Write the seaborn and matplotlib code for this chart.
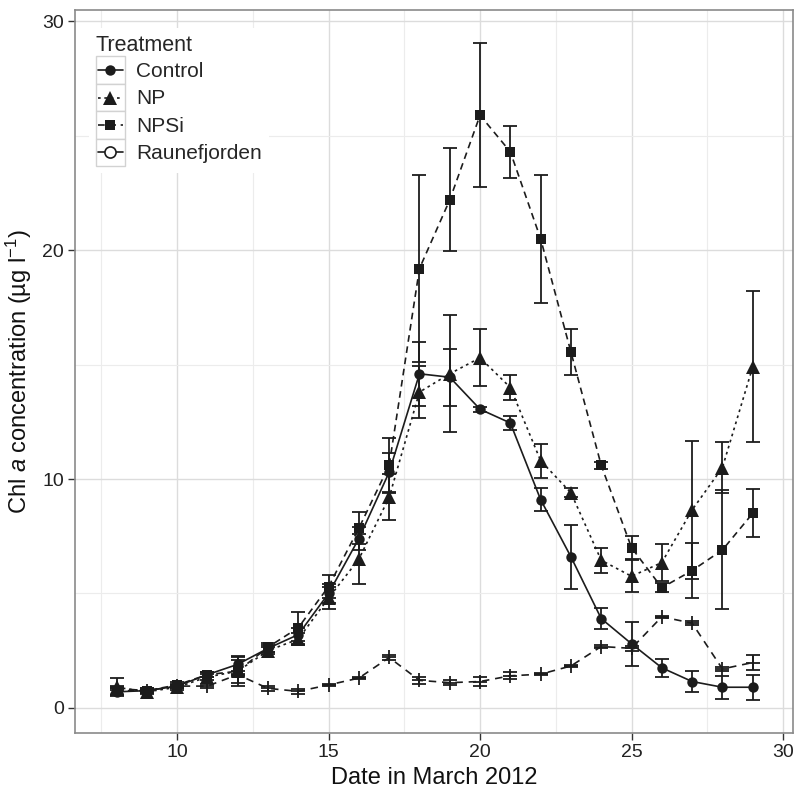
import numpy as np
import pandas as pd
import matplotlib
matplotlib.use("Agg")
import matplotlib.pyplot as plt
import seaborn as sns
from matplotlib.lines import Line2D
from matplotlib.patches import Rectangle
from matplotlib.legend_handler import HandlerBase
from matplotlib.ticker import MultipleLocator

days = list(range(8, 30))

control = [0.7, 0.75, 0.95, 1.45, 1.9, 2.6, 3.2, 5.0, 7.4, 10.3, 14.6, 14.45,
           13.05, 12.45, 9.1, 6.6, 3.9, 2.8, 1.75, 1.15, 0.9, 0.9]
control_sd = [0.15, 0.1, 0.1, 0.1, 0.3, 0.15, 0.3, 0.4, 0.5, 0.85, 1.4, 1.25,
              0.1, 0.3, 0.5, 1.4, 0.45, 0.95, 0.4, 0.45, 0.5, 0.55]

np_ = [0.9, 0.7, 0.9, 1.35, 1.6, 2.5, 3.0, 4.8, 6.5, 9.2, 13.8, 14.6,
       15.3, 14.0, 10.8, 9.4, 6.45, 5.75, 6.35, 8.65, 10.5, 14.9]
np_sd = [0.4, 0.1, 0.1, 0.15, 0.65, 0.15, 0.25, 0.5, 1.1, 1.0, 1.15, 2.55,
         1.25, 0.55, 0.75, 0.2, 0.55, 0.7, 0.8, 3.0, 1.1, 3.3]

npsi = [0.75, 0.75, 1.0, 1.45, 1.6, 2.65, 3.5, 5.3, 7.85, 10.6, 19.2, 22.2,
        25.9, 24.3, 20.5, 15.55, 10.6, 7.0, 5.25, 6.0, 6.9, 8.5]
npsi_sd = [0.2, 0.1, 0.15, 0.1, 0.5, 0.2, 0.7, 0.5, 0.7, 1.2, 4.1, 2.25,
           3.15, 1.15, 2.8, 1.0, 0.15, 0.5, 0.2, 1.2, 2.6, 1.05]

rauf = [0.85, 0.75, 0.95, 0.95, 1.45, 0.85, 0.72, 1.0, 1.3, 2.2, 1.2, 1.1,
        1.15, 1.4, 1.47, 1.83, 2.68, 2.6, 3.98, 3.7, 1.7, 1.98]
rauf_sd = [0.05, 0.05, 0.05, 0.1, 0.05, 0.1, 0.1, 0.05, 0.05, 0.1, 0.15, 0.1,
           0.2, 0.15, 0.05, 0.05, 0.05, 0.1, 0.05, 0.1, 0.1, 0.33]

treatments = ["Control", "NP", "NPSi", "Raunefjorden"]

ink = "#1c1c1c"

sns.set_theme(style="whitegrid")
plt.rcParams["font.family"] = ["Liberation Sans", "DejaVu Sans"]
plt.rcParams["mathtext.fontset"] = "custom"
plt.rcParams["mathtext.rm"] = "Liberation Sans"
plt.rcParams["mathtext.it"] = "Liberation Sans:italic"

df = pd.DataFrame({
    "day": days * 4,
    "chl": control + np_ + npsi + rauf,
    "sd": control_sd + np_sd + npsi_sd + rauf_sd,
    "treatment": np.repeat(treatments, len(days)),
})

styles = {
    "Control": dict(marker="o", ms=7.5, dashes=None),
    "NP": dict(marker="^", ms=9.5, dashes=(1.6, 2.2)),
    "NPSi": dict(marker="s", ms=7.5, dashes=(4.0, 2.8)),
    "Raunefjorden": dict(marker="+", ms=10, dashes=(4.5, 3.5)),
}


class BoxKey(HandlerBase):
    # ggplot-like legend key: grey-bordered square, line across, marker centred
    def create_artists(self, legend, orig_handle, xdescent, ydescent,
                       width, height, fontsize, trans):
        x0, y0 = -xdescent, -ydescent
        rect = Rectangle((x0, y0), width, height, facecolor="white",
                         edgecolor="#d2d2d2", linewidth=1.0)
        rect.set_transform(trans)
        yc = y0 + height / 2
        line = Line2D([x0 + 1.5, x0 + width - 1.5], [yc, yc])
        line.update_from(orig_handle)
        line.set_marker("")
        line.set_transform(trans)
        mk = Line2D([x0 + width / 2], [yc])
        mk.update_from(orig_handle)
        mk.set_linestyle("")
        mk.set_transform(trans)
        return [rect, line, mk]


fig = plt.figure(figsize=(7.95, 7.97), dpi=100)
ax = fig.add_axes([75 / 795, 64 / 797, 718 / 795, 723 / 797])

for t in treatments:
    sub = df[df["treatment"] == t]
    st = styles[t]
    ax.errorbar(sub["day"], sub["chl"], yerr=sub["sd"], fmt="none",
                ecolor=ink, elinewidth=1.3, capsize=5, capthick=1.3, zorder=3)
    kw = dict(marker=st["marker"], markersize=st["ms"], color=ink,
              markeredgecolor=ink, linewidth=1.2, zorder=4)
    kw["markeredgewidth"] = 1.3 if st["marker"] == "+" else 0
    sns.lineplot(data=sub, x="day", y="chl", ax=ax, legend=False, **kw)
    if st["dashes"] is not None:
        ax.lines[-1].set_dashes(st["dashes"])

ax.set_xlim(6.63, 30.33)
ax.set_ylim(-1.1, 30.5)
ax.xaxis.set_major_locator(MultipleLocator(5))
ax.xaxis.set_minor_locator(MultipleLocator(2.5))
ax.yaxis.set_major_locator(MultipleLocator(10))
ax.yaxis.set_minor_locator(MultipleLocator(5))
ax.grid(which="major", color="#dcdcdc", linewidth=1.0)
ax.grid(which="minor", color="#ececec", linewidth=0.8)
ax.set_axisbelow(True)

for s in ax.spines.values():
    s.set_color("#8a8a8a")
    s.set_linewidth(1.2)

ax.tick_params(which="major", direction="out", length=5, width=1.0,
               color="#333333", labelsize=14, labelcolor="#222222", pad=3,
               bottom=True, left=True)
ax.tick_params(which="minor", length=0)

ax.set_xlabel("Date in March 2012", fontsize=17, color="#111111", labelpad=4)
ax.set_ylabel("Chl $\\it{a}$ concentration (µg l$^{-1}$)", fontsize=17,
              color="#111111", labelpad=6)

handles = []
for t in treatments:
    st = styles[t]
    if t == "Raunefjorden":
        h = Line2D([], [], color=ink, marker="o", markersize=8,
                   markerfacecolor="white", markeredgecolor=ink,
                   markeredgewidth=1.2, linewidth=1.2)
    else:
        h = Line2D([], [], color=ink, marker=st["marker"], markersize=st["ms"],
                   markeredgewidth=0, linewidth=1.2)
        if st["dashes"] is not None:
            h.set_dashes(st["dashes"])
    handles.append(h)

leg = ax.legend(handles, treatments, title="Treatment", loc="upper left",
                bbox_to_anchor=(0.019, 0.975), frameon=True, fancybox=False,
                fontsize=15, title_fontsize=15.5, handlelength=1.38,
                handleheight=1.65, handletextpad=0.55, labelspacing=0.0,
                borderpad=0.35, borderaxespad=0.0,
                handler_map={Line2D: BoxKey()})
leg.get_frame().set_facecolor("white")
leg.get_frame().set_edgecolor("none")
leg.get_frame().set_alpha(1)
leg._legend_box.align = "left"

fig.savefig("out.png", dpi=100)
